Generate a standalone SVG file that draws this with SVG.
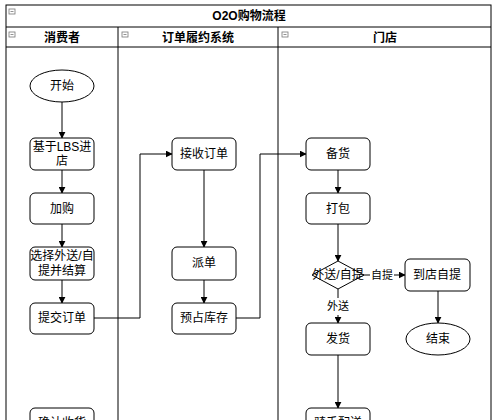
<svg xmlns="http://www.w3.org/2000/svg" width="500" height="420" viewBox="0 0 500 420">
<defs>
<style>
.frame{fill:#fff;stroke:#000;stroke-width:1}
.ln{fill:none;stroke:#000;stroke-width:1}
.node{fill:#fff;stroke:#000;stroke-width:1}
.t{font-family:"Liberation Sans","Noto Sans CJK SC",sans-serif;font-size:12px;fill:#000;text-anchor:middle;dominant-baseline:central}
.h{font-family:"Liberation Sans","Noto Sans CJK SC",sans-serif;font-size:12px;font-weight:bold;fill:#000;text-anchor:middle;dominant-baseline:central}
.lbl{font-family:"Liberation Sans","Noto Sans CJK SC",sans-serif;font-size:11px;fill:#000;text-anchor:middle;dominant-baseline:central}
.ico{fill:#fff;stroke:#777;stroke-width:0.8}
.edge{fill:none;stroke:#000;stroke-width:1;marker-end:url(#arr)}
</style>
<marker id="arr" viewBox="0 0 10 10" refX="9" refY="5" markerWidth="7" markerHeight="7" markerUnits="userSpaceOnUse" orient="auto">
<path d="M0,0 L10,5 L0,10 z" fill="#000"/>
</marker>
<g id="minus"><rect class="ico" x="0" y="0" width="6" height="5"/><line x1="1.5" y1="2.5" x2="4.5" y2="2.5" stroke="#777" stroke-width="0.8"/></g>
</defs>
<rect width="500" height="420" fill="#fff"/>
<g id="pool">
<rect class="frame" x="6" y="5" width="485" height="430"/>
<line class="ln" x1="6" y1="27" x2="491" y2="27"/>
<line class="ln" x1="6" y1="47" x2="491" y2="47"/>
<line class="ln" x1="118" y1="27" x2="118" y2="435"/>
<line class="ln" x1="278" y1="27" x2="278" y2="435"/>
<use href="#minus" x="9" y="9"/>
<use href="#minus" x="9" y="32"/>
<use href="#minus" x="122" y="32"/>
<use href="#minus" x="282" y="32"/>
<text class="h" x="249" y="16">O2O购物流程</text>
<text class="h" x="62" y="38">消费者</text>
<text class="h" x="198" y="38">订单履约系统</text>
<text class="h" x="385" y="38">门店</text>
</g>
<g id="connectors">
<line class="edge" x1="62" y1="102" x2="62" y2="138"/>
<line class="edge" x1="62" y1="170" x2="62" y2="193"/>
<line class="edge" x1="62" y1="224" x2="62" y2="247"/>
<line class="edge" x1="62" y1="280" x2="62" y2="303"/>
<polyline class="edge" points="94,318 140,318 140,154 172,154"/>
<line class="edge" x1="204" y1="170" x2="204" y2="247"/>
<line class="edge" x1="204" y1="280" x2="204" y2="303"/>
<polyline class="edge" points="236,318 260,318 260,154 306,154"/>
<line class="edge" x1="338" y1="170" x2="338" y2="193"/>
<line class="edge" x1="338" y1="224" x2="338" y2="261"/>
<line class="ln" x1="363" y1="275" x2="370" y2="275"/>
<line class="edge" x1="394" y1="275" x2="405" y2="275"/>
<text class="lbl" x="382" y="275">自提</text>
<line class="ln" x1="338" y1="289" x2="338" y2="298"/>
<line class="edge" x1="338" y1="315" x2="338" y2="323"/>
<text class="lbl" x="338" y="306">外送</text>
<line class="edge" x1="438" y1="291" x2="438" y2="323"/>
<line class="edge" x1="338" y1="355" x2="338" y2="408"/>
</g>
<g id="n_start"><ellipse class="node" cx="62" cy="86" rx="32" ry="16"/><text class="t" x="62" y="86">开始</text></g>
<g id="n_lbs"><rect class="node" x="30" y="138" width="64" height="32" rx="5"/><text class="t" x="62" y="147">基于LBS进</text><text class="t" x="62" y="161">店</text></g>
<g id="n_cart"><rect class="node" x="30" y="193" width="64" height="31" rx="5"/><text class="t" x="62" y="209">加购</text></g>
<g id="n_choose"><rect class="node" x="30" y="247" width="64" height="33" rx="5"/><text class="t" x="62" y="256">选择外送/自</text><text class="t" x="62" y="271">提并结算</text></g>
<g id="n_submit"><rect class="node" x="30" y="303" width="64" height="31" rx="5"/><text class="t" x="62" y="318">提交订单</text></g>
<g id="n_confirm"><rect class="node" x="30" y="408" width="64" height="31" rx="5"/><text class="t" x="62" y="423">确认收货</text></g>
<g id="n_receive"><rect class="node" x="172" y="138" width="64" height="32" rx="5"/><text class="t" x="204" y="154">接收订单</text></g>
<g id="n_dispatch"><rect class="node" x="172" y="247" width="64" height="33" rx="5"/><text class="t" x="204" y="263">派单</text></g>
<g id="n_reserve"><rect class="node" x="172" y="303" width="64" height="31" rx="5"/><text class="t" x="204" y="318">预占库存</text></g>
<g id="n_prepare"><rect class="node" x="306" y="138" width="64" height="32" rx="5"/><text class="t" x="338" y="154">备货</text></g>
<g id="n_pack"><rect class="node" x="306" y="193" width="64" height="31" rx="5"/><text class="t" x="338" y="209">打包</text></g>
<g id="n_decide"><polygon class="node" points="338,261 364,275 338,289 312,275"/><text class="t" x="338" y="275">外送/自提</text></g>
<g id="n_pickup"><rect class="node" x="405" y="259" width="65" height="32" rx="5"/><text class="t" x="437" y="275">到店自提</text></g>
<g id="n_end"><ellipse class="node" cx="438" cy="339" rx="32" ry="16"/><text class="t" x="438" y="339">结束</text></g>
<g id="n_ship"><rect class="node" x="306" y="323" width="64" height="32" rx="5"/><text class="t" x="338" y="339">发货</text></g>
<g id="n_rider"><rect class="node" x="306" y="408" width="64" height="31" rx="5"/><text class="t" x="338" y="423">骑手配送</text></g>
</svg>
